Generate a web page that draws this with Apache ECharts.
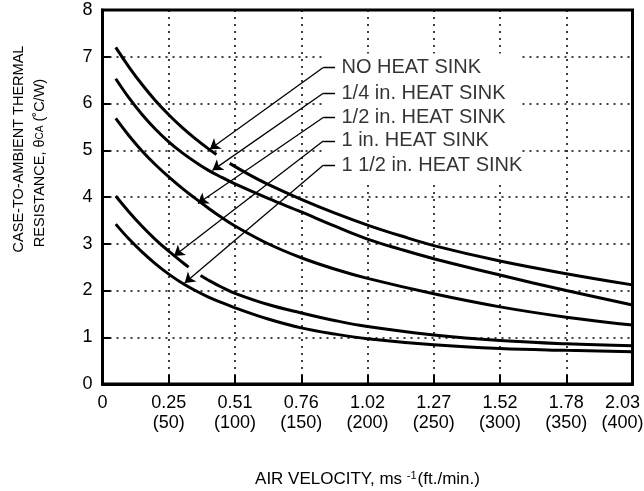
<!DOCTYPE html>
<html>
<head>
<meta charset="utf-8">
<script src="https://cdn.jsdelivr.net/npm/echarts@6/dist/echarts.min.js"></script>
<style>
html, body { margin: 0; padding: 0; background: #fff; }
#chart { width: 644px; height: 491px; }
</style>
</head>
<body>
<div id="chart"></div>
<script>
// x = air velocity in ft./min., y = thermal resistance (C/W)
var msLabels = ['0', '0.25', '0.51', '0.76', '1.02', '1.27', '1.52', '1.78', '2.03'];
var ftLabels = ['', '(50)', '(100)', '(150)', '(200)', '(250)', '(300)', '(350)', '(400)'];
var sinkNames = ['NO HEAT SINK', '1/4 in. HEAT SINK', '1/2 in. HEAT SINK', '1 in. HEAT SINK', '1 1/2 in. HEAT SINK'];

// null = gap in the drawn curve (where the original breaks it)
var noSink = [[10, 7.2], [20, 6.78], [30, 6.4], [40, 6.06], [50, 5.76], [60, 5.49], [70, 5.25], [80, 5.03], [86, 4.91], [91, null],
  [96, 4.72], [110, 4.49], [125, 4.27], [150, 3.95], [175, 3.66], [200, 3.4], [225, 3.17], [250, 2.96], [300, 2.63], [350, 2.36], [400, 2.12]];
var quarterSink = [[10, 6.53], [20, 6.12], [30, 5.76], [40, 5.45], [50, 5.18], [60, 4.95], [70, 4.75], [80, 4.57], [90, 4.42], [100, 4.28],
  [125, 3.97], [150, 3.68], [175, 3.38], [200, 3.1], [225, 2.88], [250, 2.68], [300, 2.33], [350, 2.0], [400, 1.69]];
var halfSink = [[10, 5.68], [20, 5.31], [30, 4.98], [40, 4.69], [50, 4.43], [60, 4.19], [70, 3.97], [80, 3.76], [90, 3.56], [100, 3.38],
  [125, 3.0], [150, 2.7], [175, 2.46], [200, 2.26], [250, 1.93], [300, 1.65], [350, 1.43], [400, 1.26]];
var oneSink = [[10, 4.02], [20, 3.68], [30, 3.37], [40, 3.09], [50, 2.84], [60, 2.61], [65, 2.5], [69, null], [74, 2.32], [80, 2.22],
  [90, 2.07], [100, 1.94], [125, 1.7], [150, 1.52], [175, 1.36], [200, 1.23], [250, 1.05], [300, 0.93], [350, 0.86], [400, 0.82]];
var oneHalfSink = [[10, 3.42], [20, 3.1], [30, 2.82], [40, 2.57], [50, 2.35], [60, 2.16], [70, 2.0], [80, 1.86], [90, 1.74], [100, 1.63],
  [125, 1.39], [150, 1.2], [175, 1.07], [200, 0.97], [250, 0.84], [300, 0.76], [350, 0.72], [400, 0.69]];

// callout labels and their arrows (data units)
var labelX = 180;
var labelY = [6.77, 6.22, 5.7, 5.2, 4.68];
var kinkX = 166.6;
var dashEndX = 175.5;
var tipX = [81, 83, 72, 54, 62];
var tipY = [5.02, 4.57, 3.86, 2.74, 2.16];
var boxX = [168.5, 316.5];
var boxY = [7.07, 4.36];

var font = "'Liberation Sans', Arial, Helvetica, sans-serif";
var myChart = echarts.init(document.getElementById('chart'));

var curves = [noSink, quarterSink, halfSink, oneSink, oneHalfSink];
var series = [];

series.push({
  type: 'scatter',
  z: 1,
  symbolSize: 1,
  itemStyle: { color: 'rgba(0,0,0,0)' },
  silent: true,
  data: labelY.map(function (y) { return [labelX, y]; }),
  label: {
    show: true,
    position: 'right',
    distance: 0,
    color: '#000',
    fontSize: 20,
    fontFamily: font,
    formatter: function (p) { return sinkNames[p.dataIndex]; }
  },
  markArea: {
    silent: true,
    itemStyle: { color: '#fff' },
    data: [[{ coord: [boxX[0], boxY[0]] }, { coord: [boxX[1], boxY[1]] }]]
  }
});

curves.forEach(function (c, i) {
  series.push({
    name: sinkNames[i],
    type: 'line',
    z: 3,
    smooth: 0.4,
    symbol: 'none',
    lineStyle: { color: '#000', width: 3 },
    data: c
  });
});

series.push({
  type: 'lines',
  coordinateSystem: 'cartesian2d',
  z: 4,
  silent: true,
  symbol: 'none',
  lineStyle: { color: '#000', width: 1.3, opacity: 1 },
  data: labelY.map(function (y) { return { coords: [[kinkX, y], [dashEndX, y]] }; })
});
series.push({
  type: 'lines',
  coordinateSystem: 'cartesian2d',
  z: 4,
  silent: true,
  symbol: ['none', 'arrow'],
  symbolSize: 10,
  lineStyle: { color: '#000', width: 1.3, opacity: 1 },
  data: labelY.map(function (y, i) { return { coords: [[kinkX, y], [tipX[i], tipY[i]]] }; })
});

var option = {
  animation: false,
  textStyle: { fontFamily: font, color: '#000' },
  grid: {
    left: 102.5, right: 11.5, top: 10, bottom: 107,
    outerBoundsMode: 'none',
    containLabel: false,
    show: true, borderColor: '#000', borderWidth: 3
  },
  xAxis: {
    type: 'value',
    min: 0, max: 400, interval: 50,
    name: '{a|AIR VELOCITY, ms }{s|-1}{a|(ft./min.)}',
    nameLocation: 'middle',
    nameGap: 86,
    nameTextStyle: {
      rich: {
        a: { fontSize: 17, fontFamily: font, color: '#000' },
        s: { fontSize: 11, fontFamily: font, color: '#000', padding: [0, 1, 8, 0] }
      }
    },
    axisLine: { lineStyle: { color: '#000', width: 3 } },
    axisTick: { inside: true, length: 9, lineStyle: { color: '#000', width: 2 } },
    splitLine: { show: true, lineStyle: { color: '#000', width: 1.5, type: [2, 5] } },
    axisLabel: {
      color: '#000',
      fontSize: 18,
      lineHeight: 20,
      margin: 9,
      formatter: function (v) {
        var i = Math.round(v / 50);
        if (i === 8) return '{last|' + msLabels[i] + '}\n{last|' + ftLabels[i] + '}';
        return ftLabels[i] ? msLabels[i] + '\n' + ftLabels[i] : msLabels[i];
      },
      rich: {
        last: { fontSize: 18, lineHeight: 20, padding: [0, 20, 0, 0] }
      }
    }
  },
  yAxis: {
    type: 'value',
    min: 0, max: 8, interval: 1,
    axisLine: { show: true, lineStyle: { color: '#000', width: 3 } },
    axisTick: { show: true, inside: true, length: 8, lineStyle: { color: '#000', width: 2 } },
    splitLine: { show: true, lineStyle: { color: '#000', width: 1.5, type: [2, 5] } },
    axisLabel: { color: '#000', fontSize: 18, margin: 10 }
  },
  graphic: [
    {
      type: 'text', x: 19, y: 149, rotation: Math.PI / 2,
      style: { text: 'CASE-TO-AMBIENT THERMAL', font: '14.5px ' + font, fill: '#000', align: 'center', verticalAlign: 'middle' }
    },
    {
      type: 'text', x: 40, y: 163, rotation: Math.PI / 2,
      style: {
        text: '{n|RESISTANCE, θ}{c|CA}{n| (˚C/W)}',
        align: 'center', verticalAlign: 'middle',
        rich: {
          n: { fontSize: 14.5, fontFamily: font, fill: '#000' },
          c: { fontSize: 10, fontFamily: font, fill: '#000' }
        }
      }
    }
  ],
  series: series
};

myChart.setOption(option);
</script>
</body>
</html>
